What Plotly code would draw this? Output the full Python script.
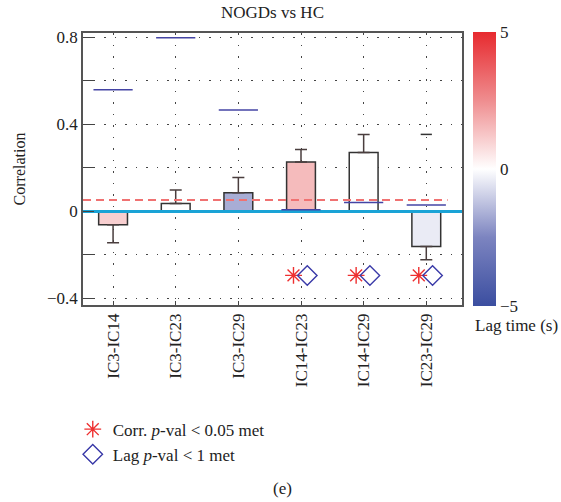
import plotly.graph_objects as go

# ---- data ----
categories = ["IC3-IC14", "IC3-IC23", "IC3-IC29", "IC14-IC23", "IC14-IC29", "IC23-IC29"]
correlation = [-0.061, 0.037, 0.086, 0.227, 0.271, -0.161]
err_plus = [0.0, 0.061, 0.070, 0.058, 0.083, 0.0]
err_minus = [0.083, 0.0, 0.0, 0.0, 0.0, 0.061]
lag_time = [1.05, 0.0, -1.66, 1.5, 0.0, -0.4]          # bar colour (s)
lag_corr = [0.559, 0.798, 0.466, 0.008, 0.041, 0.029]  # blue marks
extra_cap = [None, None, None, None, None, 0.354]
corr_sig = [False, False, False, True, True, True]
lag_sig = [False, False, False, True, True, True]
threshold = 0.052
sig_level = -0.294

xs = list(range(len(categories)))
FONT = "Liberation Serif"
colorscale = [[0.0, "#3b4ea0"], [0.25, "#7c84c0"], [0.5, "#ffffff"],
              [0.75, "#ef8d8f"], [1.0, "#e72a2f"]]

fig = go.Figure()

fig.add_trace(go.Bar(
    x=xs, y=correlation, width=0.46,
    marker=dict(color=lag_time, colorscale=colorscale, cmin=-5, cmax=5,
                line=dict(color="#333333", width=1.5),
                showscale=True,
                colorbar=dict(x=1.029, xanchor="left", xpad=0, thickness=23,
                              lenmode="pixels", len=274, y=0.5, yanchor="middle", ypad=0,
                              outlinewidth=0, ticks="", tickvals=[-5, 0, 5],
                              ticktext=["\u22125", "0", "5"],
                              tickfont=dict(family=FONT, size=17, color="#222"))),
    error_y=dict(type="data", symmetric=False, array=err_plus, arrayminus=err_minus,
                 color="#4a3e3e", thickness=1.5, width=6),
    showlegend=False, hoverinfo="skip"))

# zero line
fig.add_trace(go.Scatter(x=[-0.48, 5.57], y=[0, 0], mode="lines",
                         line=dict(color="#1aa3d6", width=3), showlegend=False, hoverinfo="skip"))
# threshold line
fig.add_trace(go.Scatter(x=[-0.48, 5.34], y=[threshold, threshold], mode="lines",
                         line=dict(color="#f07272", width=2, dash="8px,5px"),
                         showlegend=False, hoverinfo="skip"))
# lag marks
fig.add_trace(go.Scatter(x=xs, y=lag_corr, mode="markers",
                         marker=dict(symbol="line-ew", size=28,
                                     line=dict(color="#4444a4", width=1.5)),
                         showlegend=False, hoverinfo="skip"))
# extra cap
fig.add_trace(go.Scatter(x=xs, y=extra_cap, mode="markers",
                         marker=dict(symbol="line-ew", size=8,
                                     line=dict(color="#333333", width=1.5)),
                         showlegend=False, hoverinfo="skip"))
# significance markers
fig.add_trace(go.Scatter(
    x=[x - 0.12 for x, s in zip(xs, corr_sig) if s],
    y=[sig_level for s in corr_sig if s], mode="markers",
    marker=dict(symbol="asterisk-open", size=14, color="#ee3030",
                line=dict(color="#ee3030", width=1.4)),
    name="Corr. <i>p</i>-val < 0.05 met", hoverinfo="skip"))
fig.add_trace(go.Scatter(
    x=[x + 0.1 for x, s in zip(xs, lag_sig) if s],
    y=[sig_level for s in lag_sig if s], mode="markers",
    marker=dict(symbol="diamond-open", size=15, color="#3a3aa8",
                line=dict(color="#3a3aa8", width=1.4)),
    name="Lag <i>p</i>-val < 1 met", hoverinfo="skip"))

tickvals_y = [-0.4, -0.2, 0, 0.2, 0.4, 0.6, 0.8]
ticktext_y = ["\u22120.4", "", "0", "", "0.4", "", "0.8"]

fig.update_layout(
    width=561, height=502,
    margin=dict(l=83, r=99, t=33, b=197),
    paper_bgcolor="white", plot_bgcolor="white",
    font=dict(family=FONT, size=17, color="#222"),
    title=dict(text="NOGDs vs HC", x=0.5, xref="paper", xanchor="center",
               y=1 - 12 / 502, yanchor="middle", font=dict(size=17)),
    xaxis=dict(range=[-0.48, 5.57], tickvals=xs, ticktext=categories, tickangle=-90,
               ticks="inside", ticklen=4, tickwidth=1.2, tickcolor="#444",
               showline=True, mirror=True, linecolor="#555", linewidth=1.5,
               showgrid=True, gridcolor="#444", gridwidth=1.2, griddash="1.5px,10px",
               zeroline=False, tickfont=dict(size=17)),
    yaxis=dict(range=[-0.43, 0.82], tickvals=tickvals_y, ticktext=ticktext_y,
               ticks="inside", ticklen=11, tickwidth=1.2, tickcolor="#444",
               showline=True, mirror=True, linecolor="#555", linewidth=1.5,
               showgrid=True, gridcolor="#444", gridwidth=1.2, griddash="1.5px,9px",
               zeroline=False, tickfont=dict(size=17),
               title=dict(text="Correlation", font=dict(size=16), standoff=17)),
    legend=dict(x=-0.027, xanchor="left", y=-0.392, yanchor="top",
                font=dict(size=17), bgcolor="rgba(0,0,0,0)", tracegroupgap=0),
    annotations=[
        dict(text="Lag time (s)", xref="paper", yref="paper",
             x=(473 - 83) / 379, y=(305 - 325) / 272, xanchor="left", yanchor="middle",
             showarrow=False, font=dict(size=17)),
        dict(text="(e)", xref="paper", yref="paper",
             x=(282 - 83) / 379, y=(305 - 488) / 272, xanchor="center", yanchor="middle",
             showarrow=False, font=dict(size=17)),
    ],
    bargap=0.5,
)

fig.write_html("out.html", config={"displayModeBar": False},
               post_script="document.body.style.margin='0';document.body.style.padding='0';")
